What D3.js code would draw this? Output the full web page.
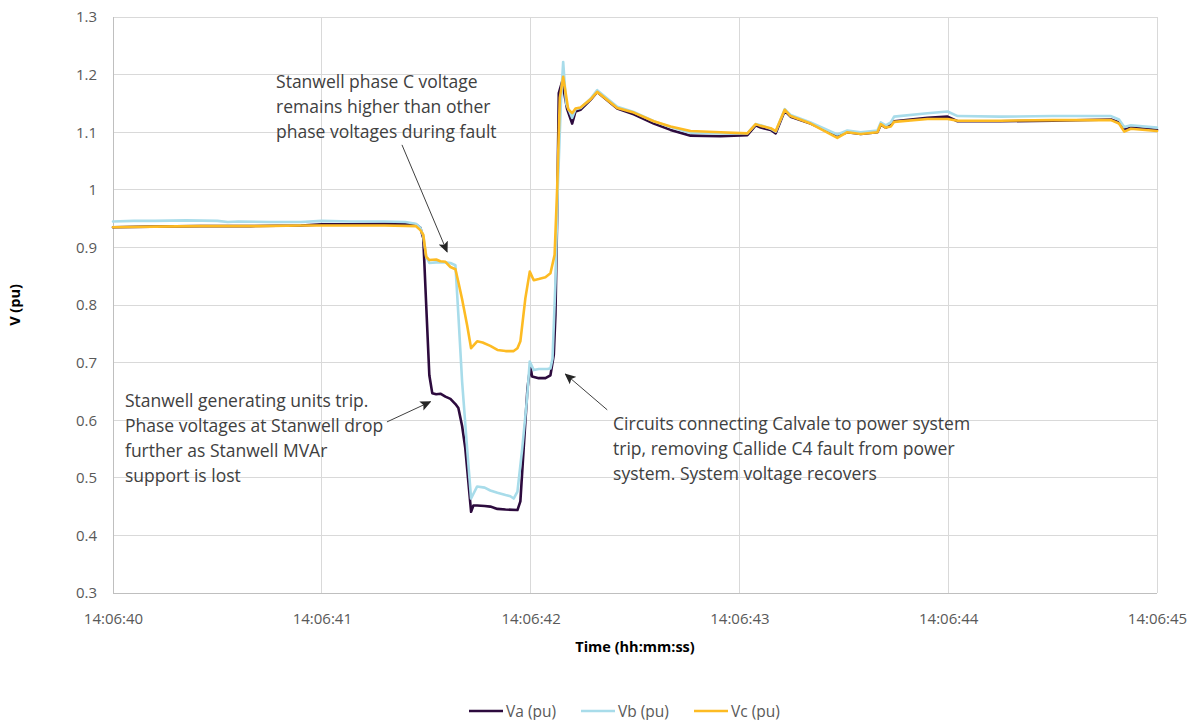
<!DOCTYPE html>
<html>
<head>
<meta charset="utf-8">
<script src="https://cdn.jsdelivr.net/npm/d3@7"></script>
<style>
  html, body { margin: 0; padding: 0; background: #fff; }
  svg { display: block; font-family: "Open Sans", "Noto Sans", sans-serif; }
</style>
</head>
<body>
<svg id="chart" width="1192" height="720"></svg>
<script>
// ---- data (time in seconds after 14:06:40, voltage in pu) ----
const xTickLabels = ["14:06:40", "14:06:41", "14:06:42", "14:06:43", "14:06:44", "14:06:45"];
const yTickValues = [0.3, 0.4, 0.5, 0.6, 0.7, 0.8, 0.9, 1.0, 1.1, 1.2, 1.3];
const seriesNames = ["Va (pu)", "Vb (pu)", "Vc (pu)"];

const vaPoints = [[0,0.935],[0.18,0.936],[0.42,0.937],[0.66,0.937],[0.9,0.938],[1.0,0.940],[1.14,0.940],[1.3,0.941],[1.38,0.941],[1.45,0.940],[1.472,0.934],[1.486,0.916],[1.5,0.80],[1.515,0.678],[1.529,0.647],[1.548,0.645],[1.568,0.646],[1.592,0.641],[1.616,0.637],[1.64,0.628],[1.654,0.621],[1.672,0.59],[1.687,0.552],[1.715,0.441],[1.726,0.452],[1.744,0.452],[1.78,0.451],[1.807,0.450],[1.841,0.446],[1.88,0.445],[1.937,0.444],[1.951,0.459],[1.967,0.552],[1.985,0.655],[1.999,0.695],[2.007,0.676],[2.039,0.673],[2.071,0.673],[2.095,0.678],[2.111,0.713],[2.119,0.783],[2.127,0.95],[2.135,1.168],[2.151,1.188],[2.175,1.14],[2.199,1.115],[2.215,1.136],[2.239,1.139],[2.287,1.156],[2.319,1.170],[2.415,1.141],[2.494,1.131],[2.59,1.115],[2.67,1.104],[2.766,1.094],[2.91,1.093],[3.038,1.095],[3.078,1.112],[3.102,1.108],[3.15,1.104],[3.174,1.098],[3.217,1.137],[3.245,1.127],[3.341,1.115],[3.469,1.094],[3.517,1.100],[3.581,1.097],[3.661,1.100],[3.677,1.113],[3.701,1.108],[3.725,1.112],[3.741,1.119],[3.901,1.125],[3.997,1.127],[4.045,1.119],[4.25,1.119],[4.5,1.120],[4.78,1.122],[4.818,1.117],[4.843,1.104],[4.875,1.108],[5.0,1.104]];

const vbPoints = [[0,0.945],[0.1,0.946],[0.2,0.946],[0.35,0.947],[0.5,0.946],[0.55,0.944],[0.6,0.945],[0.75,0.944],[0.9,0.944],[1.0,0.946],[1.14,0.945],[1.3,0.945],[1.4,0.944],[1.45,0.941],[1.472,0.934],[1.486,0.920],[1.5,0.884],[1.515,0.873],[1.548,0.874],[1.592,0.874],[1.616,0.873],[1.64,0.869],[1.654,0.783],[1.672,0.667],[1.696,0.551],[1.715,0.464],[1.744,0.485],[1.78,0.483],[1.807,0.478],[1.841,0.474],[1.88,0.470],[1.903,0.468],[1.919,0.464],[1.937,0.476],[1.96,0.551],[1.983,0.638],[1.996,0.702],[2.015,0.687],[2.039,0.689],[2.08,0.689],[2.095,0.690],[2.105,0.707],[2.119,0.840],[2.13,1.0],[2.145,1.15],[2.156,1.222],[2.17,1.15],[2.199,1.125],[2.215,1.140],[2.239,1.142],[2.287,1.158],[2.319,1.173],[2.415,1.144],[2.494,1.135],[2.59,1.119],[2.67,1.109],[2.766,1.099],[2.91,1.098],[3.038,1.098],[3.078,1.114],[3.102,1.112],[3.15,1.106],[3.174,1.101],[3.217,1.140],[3.245,1.130],[3.341,1.117],[3.469,1.096],[3.517,1.103],[3.581,1.100],[3.661,1.103],[3.677,1.117],[3.701,1.112],[3.725,1.117],[3.741,1.127],[3.901,1.133],[3.997,1.136],[4.045,1.128],[4.25,1.127],[4.5,1.128],[4.78,1.128],[4.818,1.122],[4.843,1.109],[4.875,1.112],[5.0,1.108]];

const vcPoints = [[0,0.935],[0.2,0.936],[0.42,0.937],[0.7,0.937],[0.9,0.938],[1.14,0.938],[1.3,0.938],[1.45,0.937],[1.472,0.930],[1.486,0.922],[1.5,0.884],[1.515,0.878],[1.548,0.879],[1.568,0.876],[1.592,0.875],[1.616,0.866],[1.64,0.862],[1.654,0.84],[1.672,0.81],[1.696,0.765],[1.715,0.725],[1.744,0.737],[1.77,0.735],[1.807,0.729],[1.841,0.722],[1.88,0.720],[1.919,0.720],[1.937,0.725],[1.951,0.737],[1.975,0.812],[1.996,0.858],[2.015,0.843],[2.039,0.845],[2.071,0.848],[2.095,0.855],[2.115,0.887],[2.127,1.0],[2.14,1.16],[2.156,1.196],[2.18,1.14],[2.199,1.133],[2.215,1.141],[2.239,1.143],[2.287,1.157],[2.319,1.170],[2.415,1.142],[2.494,1.134],[2.59,1.119],[2.67,1.110],[2.766,1.102],[2.91,1.100],[3.038,1.098],[3.078,1.114],[3.102,1.111],[3.15,1.107],[3.174,1.102],[3.217,1.139],[3.245,1.128],[3.341,1.115],[3.469,1.090],[3.517,1.100],[3.581,1.097],[3.661,1.100],[3.677,1.114],[3.701,1.108],[3.725,1.110],[3.741,1.118],[3.901,1.123],[3.997,1.123],[4.045,1.120],[4.25,1.120],[4.5,1.121],[4.78,1.121],[4.818,1.115],[4.843,1.101],[4.875,1.106],[5.0,1.102]];

const annotations = [
  { lines: ["Stanwell phase C voltage", "remains higher than other", "phase voltages during fault"], t: 0.781, v: 1.177, from: [1.384, 1.078], to: [1.60, 0.8925] },
  { lines: ["Stanwell generating units trip.", "Phase voltages at Stanwell drop", "further as Stanwell MVAr", "support is lost"], t: 0.0575, v: 0.623, from: [1.312, 0.597], to: [1.52, 0.632] },
  { lines: ["Circuits connecting Calvale to power system", "trip, removing Callide C4 fault from power", "system. System voltage recovers"], t: 2.395, v: 0.583, from: [2.367, 0.618], to: [2.167, 0.680] }
];

// ---- layout ----
const svg = d3.select("#chart");
const mLeft = 113, mRight = 1157, mTop = 17, mBottom = 593;
const x = d3.scaleLinear().domain([0, 5]).range([mLeft, mRight]);
const y = d3.scaleLinear().domain([0.3, 1.3]).range([mBottom, mTop]);
const colors = ["#2d0b3e", "#a8dcea", "#fdbb23"];
const seriesData = [vaPoints, vbPoints, vcPoints];

// gridlines
const g = svg.append("g");
g.selectAll("line.h").data(yTickValues).join("line")
  .attr("x1", mLeft).attr("x2", mRight)
  .attr("y1", d => y(d)).attr("y2", d => y(d))
  .attr("stroke", d => d === 0.3 ? "#bfbfbf" : "#d9d9d9").attr("stroke-width", 1)
  .attr("shape-rendering", "crispEdges");
g.selectAll("line.v").data(d3.range(0, 6)).join("line")
  .attr("x1", d => x(d)).attr("x2", d => x(d))
  .attr("y1", mTop).attr("y2", mBottom)
  .attr("stroke", d => d === 0 ? "#bfbfbf" : "#d9d9d9").attr("stroke-width", 1)
  .attr("shape-rendering", "crispEdges");

// axes labels via d3 axes
const yAxis = d3.axisLeft(y).tickValues(yTickValues)
  .tickFormat(d => d === 1 ? "1" : d3.format(".1f")(d)).tickSize(0).tickPadding(16);
const ya = svg.append("g").attr("transform", `translate(${mLeft},0)`).call(yAxis);
ya.select(".domain").remove();
ya.selectAll("text").attr("font-size", 15).attr("fill", "#595959")
  .attr("font-family", "'Open Sans', sans-serif");

const xAxis = d3.axisBottom(x).tickValues(d3.range(0, 6))
  .tickFormat((d, i) => xTickLabels[i]).tickSize(0).tickPadding(20);
const xa = svg.append("g").attr("transform", `translate(0,${mBottom})`).call(xAxis);
xa.select(".domain").remove();
xa.selectAll("text").attr("font-size", 15).attr("fill", "#595959")
  .attr("font-family", "'Open Sans', sans-serif");

// axis titles
svg.append("text").attr("x", (mLeft + mRight) / 2).attr("y", 652)
  .attr("text-anchor", "middle").attr("font-size", 14.5).attr("font-weight", "bold")
  .attr("fill", "#000").text("Time (hh:mm:ss)");
svg.append("text").attr("transform", `translate(20,${(mTop + mBottom) / 2}) rotate(-90)`)
  .attr("text-anchor", "middle").attr("font-size", 14.5).attr("font-weight", "bold")
  .attr("fill", "#000").text("V (pu)");

// series lines
const line = d3.line().x(d => x(d[0])).y(d => y(d[1]));
svg.append("g").selectAll("path").data(seriesData).join("path")
  .attr("d", line).attr("fill", "none")
  .attr("stroke", (d, i) => colors[i]).attr("stroke-width", 2.6)
  .attr("stroke-linejoin", "round").attr("stroke-linecap", "round");

// arrowheads
svg.append("defs").append("marker").attr("id", "arrow")
  .attr("viewBox", "0 0 10 10").attr("refX", 9).attr("refY", 5)
  .attr("markerWidth", 11).attr("markerHeight", 11).attr("markerUnits", "userSpaceOnUse")
  .attr("orient", "auto")
  .append("path").attr("d", "M0,0.5 L10,5 L0,9.5 L2,5 Z").attr("fill", "#262626");

// annotations
annotations.forEach(a => {
  const t = svg.append("text").attr("x", x(a.t)).attr("y", y(a.v))
    .attr("font-size", 17.5).attr("fill", "#404040");
  a.lines.forEach((l, i) => t.append("tspan").attr("x", x(a.t)).attr("dy", i === 0 ? 0 : 25).text(l));
  svg.append("line").attr("x1", x(a.from[0])).attr("y1", y(a.from[1]))
    .attr("x2", x(a.to[0])).attr("y2", y(a.to[1]))
    .attr("stroke", "#404040").attr("stroke-width", 1)
    .attr("marker-end", "url(#arrow)");
});

// legend
const legendX = [469, 581, 694];
const lg = svg.append("g").attr("transform", "translate(0,711)");
seriesNames.forEach((n, i) => {
  lg.append("line").attr("x1", legendX[i]).attr("x2", legendX[i] + 34)
    .attr("y1", 0).attr("y2", 0).attr("stroke", colors[i]).attr("stroke-width", 2.6);
  lg.append("text").attr("x", legendX[i] + 37).attr("y", 5.5)
    .attr("font-size", 15.5).attr("fill", "#595959").text(n);
});
</script>
</body>
</html>
